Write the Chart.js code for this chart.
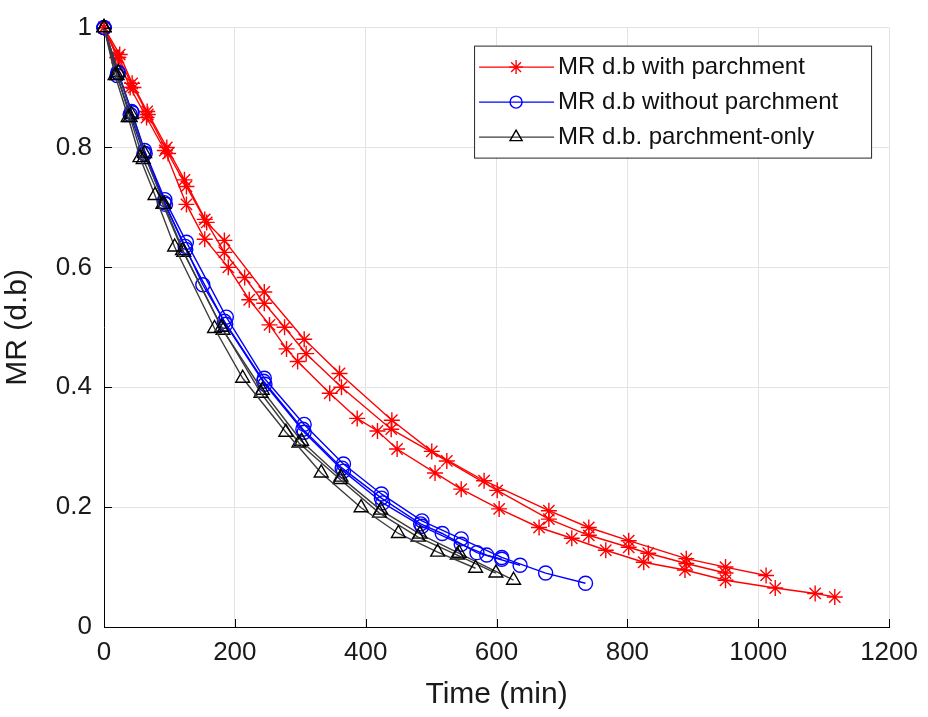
<!DOCTYPE html>
<html>
<head>
<meta charset="utf-8">
<script src="https://cdn.jsdelivr.net/npm/chart.js@4/dist/chart.umd.min.js"></script>
<style>
  html, body { margin: 0; padding: 0; background: #fff; }
  #wrap { width: 928px; height: 717px; }
</style>
</head>
<body>
<div id="wrap"><canvas id="grafico" width="928" height="717"></canvas></div>
<script>
// Dados (3 repetições por tratamento)
const tempoComPerg1 = [0, 24, 43, 66, 96, 123, 157, 184, 245, 306, 360, 440, 501, 581, 680, 741, 802, 890, 950, 1012];
const mrComPerg1    = [1, 0.955, 0.907, 0.86, 0.80, 0.746, 0.675, 0.645, 0.559, 0.48, 0.423, 0.345, 0.293, 0.244, 0.194, 0.166, 0.144, 0.114, 0.100, 0.086];
const tempoComPerg2 = [0, 22, 45, 67, 98, 126, 154, 184, 215, 245, 276, 309, 363, 439, 524, 601, 680, 741, 802, 832, 890, 950];
const mrComPerg2    = [1, 0.95, 0.90, 0.855, 0.79, 0.735, 0.68, 0.625, 0.583, 0.54, 0.50, 0.456, 0.40, 0.33, 0.277, 0.228, 0.18, 0.153, 0.133, 0.123, 0.106, 0.09];
const tempoComPerg3 = [0, 20, 40, 65, 93, 126, 154, 190, 222, 253, 279, 296, 345, 387, 418, 448, 506, 546, 604, 665, 715, 767, 825, 888, 950, 1026, 1087, 1117];
const mrComPerg3    = [1, 0.95, 0.90, 0.85, 0.795, 0.705, 0.647, 0.60, 0.546, 0.504, 0.464, 0.443, 0.39, 0.348, 0.327, 0.297, 0.257, 0.23, 0.197, 0.166, 0.148, 0.128, 0.108, 0.095, 0.078, 0.065, 0.056, 0.05];

const tempoSemPerg1 = [0, 21, 43, 62, 93, 126, 187, 245, 306, 366, 424, 486, 546, 608, 675, 736];
const mrSemPerg1    = [1, 0.925, 0.858, 0.795, 0.713, 0.642, 0.517, 0.415, 0.338, 0.272, 0.222, 0.177, 0.147, 0.116, 0.09, 0.073];
const tempoSemPerg2 = [0, 20, 40, 61, 92, 124, 151, 184, 244, 304, 364, 424, 484, 517, 570, 636];
const mrSemPerg2    = [1, 0.92, 0.855, 0.79, 0.708, 0.635, 0.571, 0.51, 0.41, 0.33, 0.265, 0.215, 0.172, 0.156, 0.124, 0.103];
const tempoSemPerg3 = [0, 22, 42, 63, 94, 125, 186, 246, 306, 366, 426, 486, 546, 585, 608];
const mrSemPerg3    = [1, 0.925, 0.86, 0.79, 0.705, 0.63, 0.505, 0.405, 0.325, 0.26, 0.207, 0.168, 0.138, 0.12, 0.113];

const tempoSoPerg1 = [0, 17, 37, 55, 78, 108, 169, 212, 278, 332, 393, 450, 510, 568];
const mrSoPerg1    = [1, 0.92, 0.85, 0.783, 0.72, 0.634, 0.498, 0.415, 0.325, 0.257, 0.199, 0.156, 0.125, 0.098];
const tempoSoPerg2 = [0, 20, 40, 60, 90, 120, 180, 240, 298, 361, 421, 480, 540, 599];
const mrSoPerg2    = [1, 0.92, 0.85, 0.78, 0.705, 0.628, 0.50, 0.39, 0.307, 0.246, 0.19, 0.15, 0.12, 0.09];
const tempoSoPerg3 = [0, 22, 42, 62, 92, 122, 182, 242, 302, 362, 423, 483, 543, 626];
const mrSoPerg3    = [1, 0.925, 0.855, 0.79, 0.705, 0.625, 0.495, 0.395, 0.31, 0.25, 0.195, 0.155, 0.123, 0.078];

const xTicks = [0, 200, 400, 600, 800, 1000, 1200];
const yTicks = [0, 0.2, 0.4, 0.6, 0.8, 1];

// Estilo de cada tratamento (ordem da legenda)
const grupos = [
  { nome: 'MR d.b with parchment', linha: '#ff0000', ponto: '#ff0000', marcador: 'star', raio: 8 },
  { nome: 'MR d.b without parchment', linha: '#0000ff', ponto: '#0000ff', marcador: 'circle', raio: 7 },
  { nome: 'MR d.b. parchment-only', linha: '#3c3c3c', ponto: '#000000', marcador: 'triangle', raio: 8 }
];

function serie(tempos, valores, g) {
  return {
    label: g.nome,
    data: tempos.map((t, i) => ({ x: t, y: valores[i] })),
    showLine: true,
    borderColor: g.linha,
    borderWidth: 1.4,
    tension: 0,
    pointStyle: g.marcador,
    pointRadius: g.raio,
    pointHoverRadius: g.raio,
    pointBorderColor: g.ponto,
    pointBackgroundColor: 'rgba(0,0,0,0)',
    pointBorderWidth: 1.4,
    clip: false
  };
}

// O primeiro dataset fica por cima: preto, depois azul, depois vermelho
const datasets = [
  serie(tempoSoPerg1, mrSoPerg1, grupos[2]),
  serie(tempoSoPerg2, mrSoPerg2, grupos[2]),
  serie(tempoSoPerg3, mrSoPerg3, grupos[2]),
  serie(tempoSemPerg1, mrSemPerg1, grupos[1]),
  serie(tempoSemPerg2, mrSemPerg2, grupos[1]),
  serie(tempoSemPerg3, mrSemPerg3, grupos[1]),
  serie(tempoComPerg1, mrComPerg1, grupos[0]),
  serie(tempoComPerg2, mrComPerg2, grupos[0]),
  serie(tempoComPerg3, mrComPerg3, grupos[0])
];

const fonte = '"Liberation Sans", Arial, sans-serif';

// Marcas dos eixos para dentro (estilo MATLAB)
const marcasInternas = {
  id: 'marcasInternas',
  afterDatasetsDraw(chart) {
    const { ctx, chartArea, scales } = chart;
    ctx.save();
    ctx.strokeStyle = '#000';
    ctx.lineWidth = 1;
    ctx.beginPath();
    scales.x.ticks.forEach(t => {
      const px = Math.round(scales.x.getPixelForValue(t.value)) + 0.5;
      ctx.moveTo(px, chartArea.bottom);
      ctx.lineTo(px, chartArea.bottom - 8);
    });
    scales.y.ticks.forEach(t => {
      const py = Math.round(scales.y.getPixelForValue(t.value)) + 0.5;
      ctx.moveTo(chartArea.left, py);
      ctx.lineTo(chartArea.left + 8, py);
    });
    ctx.stroke();
    ctx.restore();
  }
};

// Legenda em caixa no canto superior direito
const legendaCaixa = {
  id: 'legendaCaixa',
  afterDraw(chart) {
    const { ctx, chartArea } = chart;
    const w = 397, h = 112;
    const x0 = chartArea.right - 18 - w;
    const y0 = chartArea.top + 18;
    ctx.save();
    ctx.fillStyle = '#fff';
    ctx.fillRect(x0, y0, w, h);
    ctx.strokeStyle = '#262626';
    ctx.lineWidth = 1;
    ctx.strokeRect(x0 + 0.5, y0 + 0.5, w, h);
    grupos.forEach((g, i) => {
      const cy = y0 + 21 + i * 35;
      ctx.strokeStyle = g.linha;
      ctx.lineWidth = 1.4;
      ctx.beginPath();
      ctx.moveTo(x0 + 5, cy + 0.5);
      ctx.lineTo(x0 + 80, cy + 0.5);
      ctx.stroke();
      ctx.strokeStyle = g.ponto;
      ctx.fillStyle = 'rgba(0,0,0,0)';
      Chart.helpers.drawPoint(ctx, { pointStyle: g.marcador, radius: g.raio - 1, borderWidth: 1.4, rotation: 0 }, x0 + 42, cy + 0.5);
      ctx.fillStyle = '#111';
      ctx.font = '24px ' + fonte;
      ctx.textBaseline = 'middle';
      ctx.textAlign = 'left';
      ctx.fillText(g.nome, x0 + 84, cy + 1);
    });
    ctx.restore();
  }
};

Chart.defaults.font.family = fonte;
Chart.defaults.color = '#1a1a1a';

new Chart(document.getElementById('grafico'), {
  type: 'scatter',
  data: { datasets },
  options: {
    responsive: false,
    animation: false,
    events: [],
    layout: { padding: { top: 24, right: 37, left: 0, bottom: 0 } },
    plugins: {
      legend: { display: false },
      tooltip: { enabled: false }
    },
    scales: {
      x: {
        type: 'linear',
        min: 0,
        max: 1200,
        afterBuildTicks: s => { s.ticks = xTicks.map(v => ({ value: v })); },
        afterFit: s => { s.height = 90; },
        grid: { color: '#e3e3e3', drawTicks: false },
        border: { color: '#000', width: 1 },
        ticks: { padding: 10, font: { size: 26 }, callback: v => String(v) },
        title: { display: true, text: 'Time (min)', font: { size: 30 }, padding: { top: 0, bottom: 4 } }
      },
      y: {
        type: 'linear',
        min: 0,
        max: 1,
        afterBuildTicks: s => { s.ticks = yTicks.map(v => ({ value: v })); },
        afterFit: s => { s.width = 104; },
        grid: { color: '#e3e3e3', drawTicks: false },
        border: { color: '#000', width: 1 },
        ticks: { padding: 12, font: { size: 26 }, callback: v => String(Number(v.toFixed(2))) },
        title: { display: true, text: 'MR (d.b)', font: { size: 30 }, padding: { top: 0, bottom: 8 } }
      }
    }
  },
  plugins: [marcasInternas, legendaCaixa]
});
</script>
</body>
</html>
